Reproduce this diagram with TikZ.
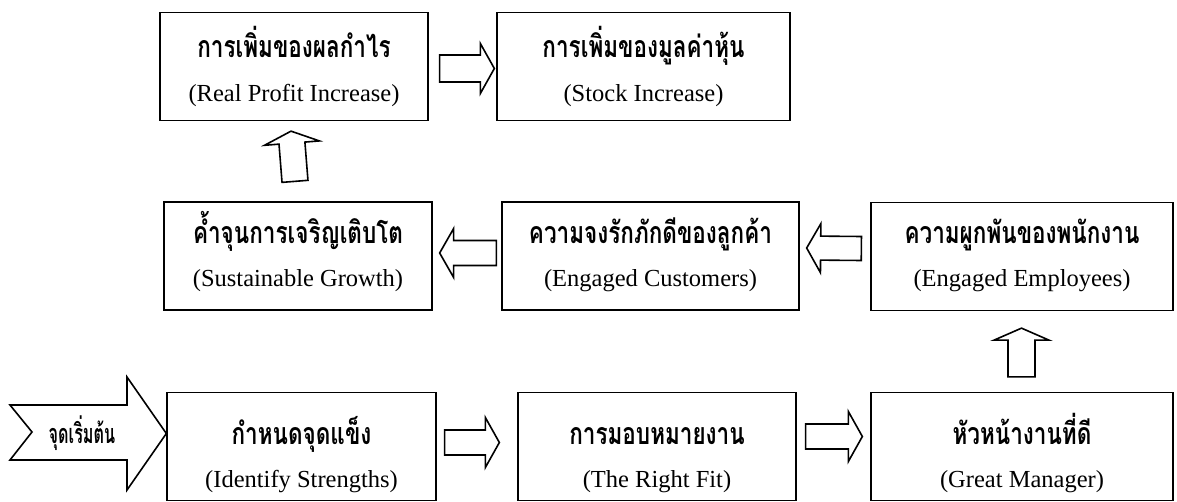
\documentclass[tikz,border=0pt]{standalone}
\usepackage{fontspec}
\usepackage{graphicx}
\setmainfont{Liberation Serif}
\newfontfamily\thaifont[Script=Thai]{Loma}
\usetikzlibrary{calc}
\newcommand\thtext[1]{\scalebox{1}[1.35]{#1}}
\newcommand\barrow[5]{% #1 tail, #2 tip, #3 shaft half width, #4 head half width, #5 head length
  \coordinate (bb) at ($(#2)!#5pt!(#1)$);
  \draw[arrowshape] ($(#1)!#3pt!90:(#2)$) -- ($(bb)!#3pt!90:(#2)$) -- ($(bb)!#4pt!90:(#2)$)
    -- (#2) -- ($(bb)!#4pt!-90:(#2)$) -- ($(bb)!#3pt!-90:(#2)$) -- ($(#1)!#3pt!-90:(#2)$) -- cycle;}
\begin{document}
\begin{tikzpicture}[x=1pt,y=-1pt,
  box/.style={draw, line width=1.3pt, inner sep=0pt, minimum height=108pt},
  th/.style={font=\thaifont\bfseries\fontsize{22.5}{26}\selectfont, anchor=base, inner sep=0pt},
  en/.style={font=\fontsize{24.5}{28}\selectfont, anchor=base, inner sep=0pt},
  arrowshape/.style={draw, line width=1.6pt, fill=white, line join=miter}]
\fill[white] (0,0) rectangle (1177,502);
\useasboundingbox (0,0) rectangle (1177,502);
% boxes
\node[box, minimum width=268pt] (A) at (294,66.5) {};
\node[box, minimum width=293pt] (B) at (643.5,66.5) {};
\node[box, minimum width=268pt] (C) at (298,256) {};
\node[box, minimum width=297pt] (D) at (650.5,256) {};
\node[box, minimum width=302pt] (E) at (1022,256.5) {};
\node[box, minimum width=269pt] (F) at (301.5,446.5) {};
\node[box, minimum width=278pt] (G) at (657,446.5) {};
\node[box, minimum width=302pt] (H) at (1022,446.5) {};
% texts
\node[th] (A1) at ($(A.north)+(0,46)$) {\thtext{การเพิ่มของผลกำไร}};
\node[en] (A2) at ($(A.north)+(0,90)$) {(Real Profit Increase)};
\node[th] (B1) at ($(B.north)+(0,46)$) {\thtext{การเพิ่มของมูลค่าหุ้น}};
\node[en] (B2) at ($(B.north)+(0,90)$) {(Stock Increase)};
\node[th] (C1) at ($(C.north)+(0,42)$) {\thtext{ค้ำจุนการเจริญเติบโต}};
\node[en] (C2) at ($(C.north)+(0,85)$) {(Sustainable Growth)};
\node[th] (D1) at ($(D.north)+(0,42)$) {\thtext{ความจงรักภักดีของลูกค้า}};
\node[en] (D2) at ($(D.north)+(0,85)$) {(Engaged Customers)};
\node[th] (E1) at ($(E.north)+(0,42)$) {\thtext{ความผูกพันของพนักงาน}};
\node[en] (E2) at ($(E.north)+(0,85)$) {(Engaged Employees)};
\node[th] (F1) at ($(F.north)+(0,53)$) {\thtext{กำหนดจุดแข็ง}};
\node[en] (F2) at ($(F.north)+(0,96)$) {(Identify Strengths)};
\node[th] (G1) at ($(G.north)+(0,53)$) {\thtext{การมอบหมายงาน}};
\node[en] (G2) at ($(G.north)+(0,96)$) {(The Right Fit)};
\node[th] (H1) at ($(H.north)+(0,53)$) {\thtext{หัวหน้างานที่ดี}};
\node[en] (H2) at ($(H.north)+(0,96)$) {(Great Manager)};
% start arrow
\coordinate (st) at (F.west);
\draw[arrowshape] (10,405) -- (127,405) -- (127,377) -- ($(st)+(0,-13)$) -- (127,490) -- (127,460) -- (10,460) -- (32,432) -- cycle;
\node[th, font=\thaifont\bfseries\fontsize{18}{20}\selectfont] (S) at (82,443) {\scalebox{0.9}[1.5]{จุดเริ่มต้น}};
% block arrows
\coordinate (ab-t) at ($(A.east)+(11,2)$);  \coordinate (ab-p) at ($(B.west)+(-2,2)$);
\barrow{ab-t}{ab-p}{13.5}{25}{14}
\coordinate (ca-t) at ($(C.north)+(-3,-20)$); \coordinate (ca-p) at ($(A.south)+(-3,10)$);
\barrow{ca-t}{ca-p}{13}{27.5}{12}
\coordinate (dc-t) at ($(D.west)+(-5,-3)$); \coordinate (dc-p) at ($(C.east)+(7,-3)$);
\barrow{dc-t}{dc-p}{12.5}{24.5}{14}
\coordinate (ed-t) at ($(E.west)+(-9,-8)$); \coordinate (ed-p) at ($(D.east)+(7,-8)$);
\barrow{ed-t}{ed-p}{12}{24.5}{14}
\coordinate (he-t) at ($(H.north)+(-0.5,-15)$); \coordinate (he-p) at ($(E.south)+(-0.5,17)$);
\barrow{he-t}{he-p}{13.5}{27.5}{12}
\coordinate (fg-t) at ($(F.east)+(8,-4)$); \coordinate (fg-p) at ($(G.west)+(-18,-4)$);
\barrow{fg-t}{fg-p}{12.5}{25}{14}
\coordinate (gh-t) at ($(G.east)+(9,-10)$); \coordinate (gh-p) at ($(H.west)+(-8,-10)$);
\barrow{gh-t}{gh-p}{12.5}{25}{14}
\end{tikzpicture}
\end{document}
